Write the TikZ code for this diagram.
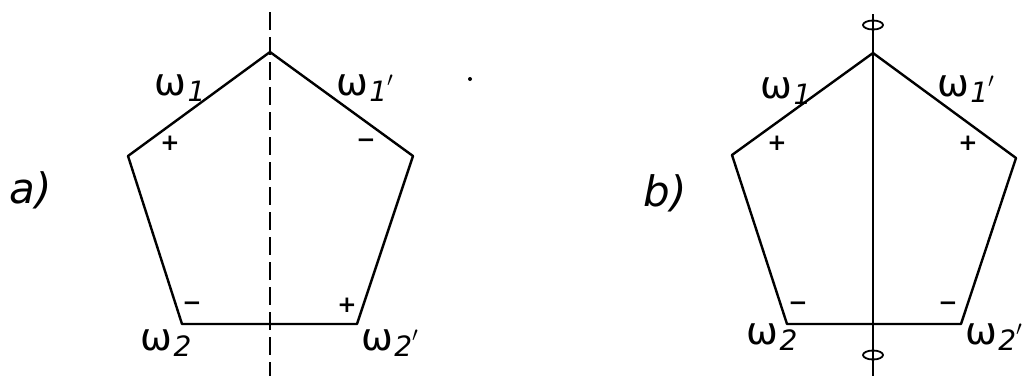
\documentclass[tikz,border=0pt]{standalone}
\usepackage{fontspec}
\setmainfont{DejaVu Sans}
\newcommand{\wlab}[2]{ω\kern1pt\raisebox{-0.3ex}{\fontsize{28}{28}\selectfont\itshape #1}{\fontsize{28}{28}\selectfont #2}}
\begin{document}
\begin{tikzpicture}[x=1pt,y=-1pt,
  edge/.style={line width=2.4pt, line join=round},
  axisdash/.style={line width=2pt, dash pattern=on 18pt off 7pt},
  axissolid/.style={line width=2pt},
  lbl/.style={font=\fontsize{38}{38}\selectfont, inner sep=0pt},
  sgn/.style={font=\fontsize{23}{23}\selectfont\bfseries, inner sep=0pt},
  part/.style={font=\fontsize{42}{42}\selectfont\itshape, inner sep=0pt},
  phi/.style={line width=1.8pt},
  speck/.style={fill=black}]
\useasboundingbox (0,0) rectangle (1023,376);
% ---- a) ----
\coordinate (aT) at (270,52);
\coordinate (aL) at (128,156);
\coordinate (aR) at (413,156);
\coordinate (aBL) at (182,324);
\coordinate (aBR) at (357,324);
\coordinate (aAx1) at (270,12);
\coordinate (aAx2) at (270,376);
\draw[edge] (aT) -- (aR) -- (aBR) -- (aBL) -- (aL) -- cycle;
\draw[axisdash] (aAx1) -- (aAx2);
\node[part] (la) at (31,190) {a)};
\node[lbl] (aw1) at (180,88) {\wlab{1}{}};
\node[lbl] (aw1p) at (365,88) {\wlab{1}{$'$}};
\node[lbl] (aw2) at (166,343) {\wlab{2}{}};
\node[lbl] (aw2p) at (390,343) {\wlab{2}{$'$}};
\node[sgn] (ap1) at (170,143) {+};
\node[sgn] (am1) at (366,143) {−};
\node[sgn] (am2) at (192,306) {−};
\node[sgn] (ap2) at (347,305) {+};
\fill[speck] (470,79) circle (2pt);
% ---- b) ----
\coordinate (bT) at (873,53);
\coordinate (bL) at (732,155);
\coordinate (bR) at (1016,158);
\coordinate (bBL) at (787,324);
\coordinate (bBR) at (961,324);
\coordinate (bAx1) at (873,14);
\coordinate (bAx2) at (873,376);
\draw[edge] (bT) -- (bR) -- (bBR) -- (bBL) -- (bL) -- cycle;
\draw[axissolid] (bAx1) -- (bAx2);
\draw[phi] (873,25) ellipse (10pt and 4.5pt);
\draw[phi] (873,355) ellipse (10pt and 4.5pt);
\node[part] (lb) at (665,193) {b)};
\node[lbl] (bw1) at (786,91) {\wlab{1}{}};
\node[lbl] (bw1p) at (966,89) {\wlab{1}{$'$}};
\node[lbl] (bw2) at (772,337) {\wlab{2}{}};
\node[lbl] (bw2p) at (994,337) {\wlab{2}{$'$}};
\node[sgn] (bp1) at (777,143) {+};
\node[sgn] (bp2) at (968,143) {+};
\node[sgn] (bm1) at (798,306) {−};
\node[sgn] (bm2) at (948,306) {−};
\end{tikzpicture}
\end{document}
